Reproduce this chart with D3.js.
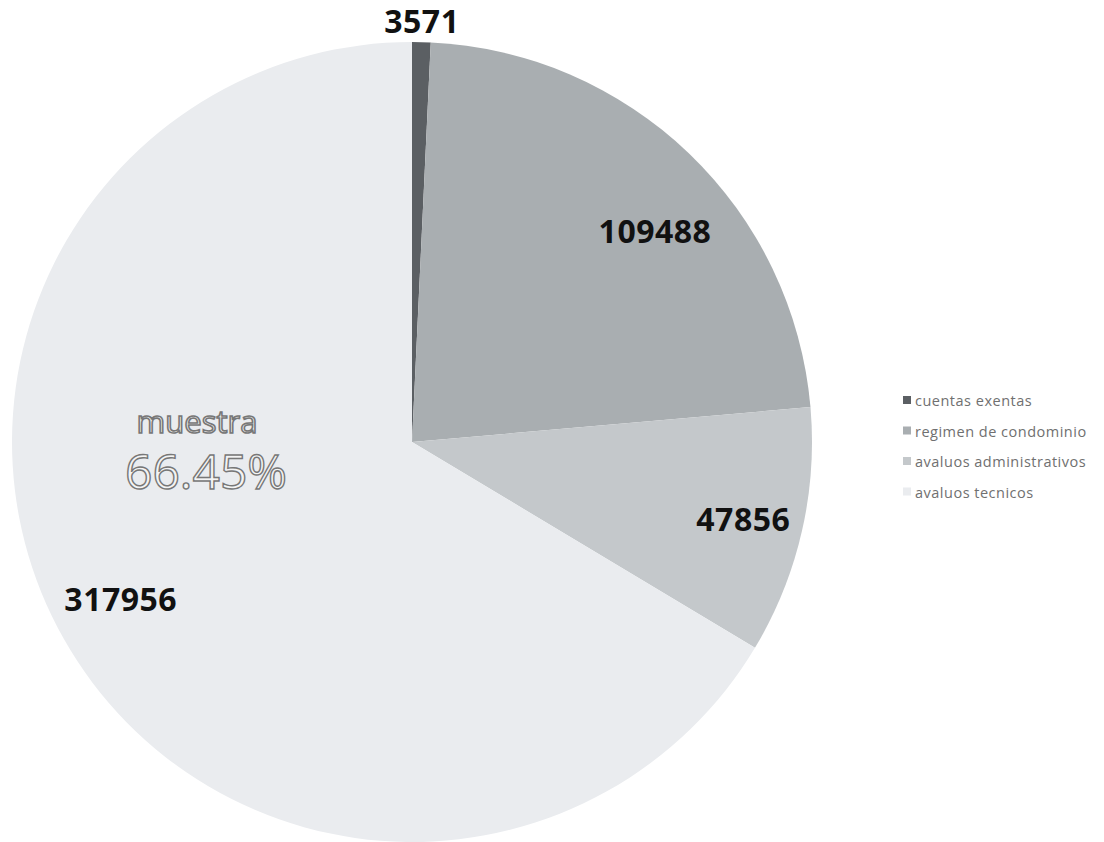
<!DOCTYPE html>
<html>
<head>
<meta charset="utf-8">
<script src="https://d3js.org/d3.v7.min.js"></script>
<style>
  body { margin: 0; background: #fff; }
  svg { display: block; }
</style>
</head>
<body>
<svg width="1104" height="842"></svg>
<script>
var categories = ["cuentas exentas", "regimen de condominio", "avaluos administrativos", "avaluos tecnicos"];
var values = [3571, 109488, 47856, 317956];
var colors = ["#5b5f63", "#a9aeb1", "#c4c8cb", "#eaecef"];
var calloutName = "muestra";
var calloutPct = "66.45%";

var svg = d3.select("svg");
var cx = 412, cy = 442, r = 400;
// distance of each value label from the centre
var labelR = [421, 322, 340, 331];

var pie = d3.pie().sort(null).value(function (d) { return d; });
var arcs = pie(values);
var arc = d3.arc().innerRadius(0).outerRadius(r);

var g = svg.append("g").attr("transform", "translate(" + cx + "," + cy + ")");

g.selectAll("path.slice")
    .data(arcs)
    .enter().append("path")
    .attr("class", "slice")
    .attr("d", arc)
    .attr("fill", function (d, i) { return colors[i]; });

g.selectAll("text.val")
    .data(arcs)
    .enter().append("text")
    .attr("class", "val")
    .attr("transform", function (d, i) {
        var a = (d.startAngle + d.endAngle) / 2;
        if (i == 1) a += 0.09;
        if (i == 3) a += 0.02;
        return "translate(" + (Math.sin(a) * labelR[i]) + "," + (-Math.cos(a) * labelR[i]) + ")";
    })
    .attr("text-anchor", "middle")
    .attr("dy", "0.38em")
    .style("font-family", "'Open Sans', sans-serif")
    .style("font-weight", "bold")
    .style("font-size", "32px")
    .style("letter-spacing", "0.5px")
    .attr("fill", "#111")
    .text(function (d) { return d.data; });

// outlined callout inside the big slice
g.append("text")
    .attr("x", -215).attr("y", -9)
    .attr("text-anchor", "middle")
    .style("font-family", "'Open Sans', sans-serif")
    .style("font-size", "31px")
    .attr("fill", "#f4f4f4")
    .attr("stroke", "#777")
    .attr("stroke-width", 1.6)
    .text(calloutName);

g.append("text")
    .attr("x", -206).attr("y", 47)
    .attr("text-anchor", "middle")
    .style("font-family", "'Open Sans', sans-serif")
    .style("font-size", "48px")
    .attr("fill", "#f4f4f4")
    .attr("stroke", "#777")
    .attr("stroke-width", 1.4)
    .text(calloutPct);

// legend
var legend = svg.append("g").attr("transform", "translate(903,392)");
var item = legend.selectAll("g")
    .data(categories)
    .enter().append("g")
    .attr("transform", function (d, i) { return "translate(0," + (i * 30.5) + ")"; });

item.append("rect")
    .attr("width", 8).attr("height", 8)
    .attr("y", 4)
    .attr("fill", function (d, i) { return colors[i]; });

item.append("text")
    .attr("x", 12).attr("y", 14)
    .style("font-family", "'Open Sans', sans-serif")
    .style("font-size", "14.5px")
    .style("letter-spacing", "0.5px")
    .attr("fill", "#707070")
    .text(function (d) { return d; });
</script>
</body>
</html>
